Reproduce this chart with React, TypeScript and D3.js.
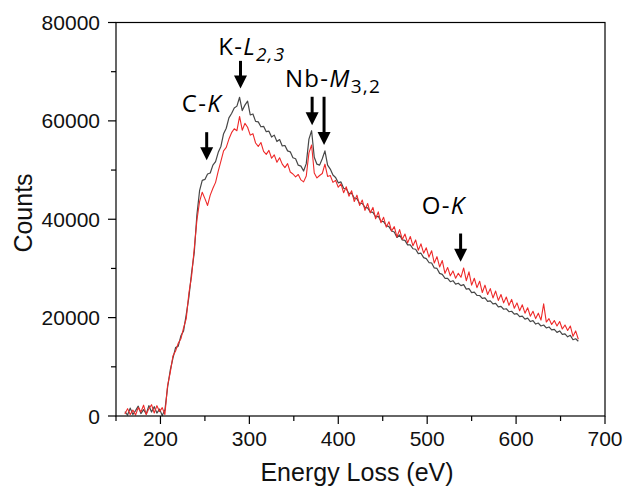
import React from "react";
import * as d3 from "d3";

const energyStart = 160;
const energyStep = 3;

const grayCounts = [
  900, 200, 1600, 300, 1100, 2000, 500, 1300, 400, 2100, 800, 1900, 600, 1400, 100, 1200,
  5800, 9300, 11700, 13900, 14200, 16300, 17300, 20600, 24200, 29100, 33200, 40900, 45800, 47900,
  48100, 49200, 49400, 51000, 51700, 53600, 54800, 57400, 58500, 60600, 61500, 62600, 63000, 64800,
  62100, 63200, 64000, 61200, 61400, 59900, 59800, 58800, 58900, 57800, 57900, 56700, 57100, 55800,
  56200, 54900, 55000, 53900, 53700, 52500, 52300, 51000, 50800, 49800, 51300, 56300, 58000, 52600,
  51200, 51000, 52300, 53900, 51000, 50200, 49000, 48500, 47400, 47600, 46300, 46200, 45200, 45300,
  44300, 44200, 43200, 43200, 42400, 42300, 41500, 41400, 40500, 40600, 39600, 39500, 38700, 38500,
  37600, 37400, 36300, 36800, 35800, 35700, 34800, 34800, 34000, 33900, 33000, 33100, 32200, 32000,
  31200, 31100, 30100, 30000, 29000, 28800, 28000, 28000, 27300, 27500, 26800, 27000, 26500, 26700,
  25800, 25900, 25100, 25200, 24500, 24500, 23900, 24000, 23300, 23400, 22800, 22900, 22200, 22300,
  21700, 21800, 21200, 21300, 20700, 20800, 20200, 20300, 19700, 19900, 19200, 19400, 18700, 18900,
  18300, 18500, 17900, 18100, 17500, 17600, 17000, 17300, 16600, 16700, 16100, 16400, 15500, 15700,
  15200,
];

const redCounts = [
  400, 1500, 300, 1200, 200, 1700, 800, 2200, 300, 1500, 2300, 600, 2100, 900, 1700, 300,
  6200, 8800, 12200, 13200, 14800, 15700, 17900, 19800, 25000, 28400, 34000, 39800, 43600, 45500,
  44200, 42800, 44900, 46300, 47500, 49800, 51800, 53900, 54600, 56300, 57600, 58400, 58000, 60900,
  58100, 59500, 58700, 57100, 57400, 55500, 54800, 55600, 53800, 53200, 54000, 52400, 53100, 51600,
  52500, 51200, 50500, 51300, 49600, 49200, 48600, 49100, 48000, 47600, 48800, 53500, 55100, 49400,
  48400, 48900, 49300, 51200, 48700, 48900, 47500, 47900, 46500, 47200, 45400, 46600, 44700, 45800,
  43600, 44900, 42800, 43900, 41800, 43200, 41300, 42400, 40100, 41500, 39300, 40400, 38400, 39500,
  37600, 38500, 36400, 37900, 35900, 37000, 35200, 36500, 34600, 35800, 33700, 35000, 33100, 34200,
  32300, 33600, 31100, 32400, 30300, 31600, 29000, 30200, 28500, 29500, 28000, 29000, 28200, 30100,
  27500, 29300, 26600, 28000, 26100, 27400, 25100, 26600, 24700, 25900, 24000, 25400, 23500, 24700,
  23000, 24200, 22500, 23700, 21900, 23000, 21400, 22600, 20900, 22000, 20300, 21300, 19800, 20900,
  19500, 22800, 19100, 19800, 18600, 19400, 18300, 19200, 17700, 18500, 17400, 18300, 16200, 17300,
  15600,
];

const xTicks = [200, 300, 400, 500, 600, 700];
const xMinorTicks = [150, 250, 350, 450, 550, 650];
const yTicks = [0, 20000, 40000, 60000, 80000];
const yMinorTicks = [10000, 30000, 50000, 70000];

// arrows: energy, tail counts, tip counts
const arrowEnergy = [252, 290, 370.6, 384, 537.6];
const arrowTail = [57700, 72200, 64900, 64900, 37100];
const arrowTip = [52000, 66600, 59100, 55100, 31350];

const W = 625;
const H = 487;
const M = { left: 116, right: 20, top: 22.5, bottom: 71 };

export default function App() {
  const x = d3.scaleLinear().domain([150, 700]).range([M.left, W - M.right]);
  const y = d3.scaleLinear().domain([0, 80000]).range([H - M.bottom, M.top]);
  const energies = grayCounts.map((_, i) => energyStart + i * energyStep);
  const line = d3
    .line<number>()
    .x((_, i) => x(energies[i]))
    .y((d) => y(d));

  const x0 = x.range()[0];
  const x1 = x.range()[1];
  const y0 = y.range()[0];
  const y1 = y.range()[1];
  const axisFont = "'Liberation Sans', Arial, sans-serif";
  const annFont = "'Open Sans', 'Noto Sans', sans-serif";

  return (
    <svg width={W} height={H} style={{ position: "absolute", left: 0, top: 0, background: "#fff" }}>
      <g fill="none" strokeLinejoin="round">
        <path d={line(grayCounts) || ""} stroke="#474747" strokeWidth={1.2} />
        <path d={line(redCounts) || ""} stroke="#ee2a2a" strokeWidth={1.1} />
      </g>
      {/* frame */}
      <rect x={x0} y={y1} width={x1 - x0} height={y0 - y1} fill="none" stroke="#000" strokeWidth={1.2} />
      {/* x ticks */}
      {xTicks.map((t) => (
        <g key={"xt" + t}>
          <line x1={x(t)} x2={x(t)} y1={y0} y2={y0 + 8} stroke="#000" strokeWidth={1.2} />
          <text x={x(t)} y={y0 + 30} textAnchor="middle" fontSize={21} fontFamily={axisFont} fill="#111">
            {t}
          </text>
        </g>
      ))}
      {xMinorTicks.map((t) => (
        <line key={"xm" + t} x1={x(t)} x2={x(t)} y1={y0} y2={y0 + 5} stroke="#000" strokeWidth={1.2} />
      ))}
      {yTicks.map((t) => (
        <g key={"yt" + t}>
          <line x1={x0 - 8} x2={x0} y1={y(t)} y2={y(t)} stroke="#000" strokeWidth={1.2} />
          <text x={x0 - 16} y={y(t) + 7.5} textAnchor="end" fontSize={21} fontFamily={axisFont} fill="#111">
            {t}
          </text>
        </g>
      ))}
      {yMinorTicks.map((t) => (
        <line key={"ym" + t} x1={x0 - 5} x2={x0} y1={y(t)} y2={y(t)} stroke="#000" strokeWidth={1.2} />
      ))}
      <text x={357} y={481} textAnchor="middle" fontSize={25} fontFamily={axisFont} fill="#111">
        Energy Loss (eV)
      </text>
      <text transform="translate(32,213) rotate(-90)" textAnchor="middle" fontSize={25} fontFamily={axisFont} fill="#111">
        Counts
      </text>
      {/* arrows */}
      {arrowEnergy.map((e, i) => {
        const ax = x(e);
        const yt = y(arrowTail[i]);
        const yp = y(arrowTip[i]);
        return (
          <g key={"ar" + i}>
            <line x1={ax} x2={ax} y1={yt} y2={yp - 10} stroke="#000" strokeWidth={3} />
            <path d={`M${ax - 6.5},${yp - 13} L${ax + 6.5},${yp - 13} L${ax},${yp} Z`} fill="#000" />
          </g>
        );
      })}
      {/* labels */}
      <g fontFamily={annFont} fontSize={24} fill="#000" letterSpacing={1.3}>
        <text x={x(224)} y={y(61800)}>
          C-<tspan fontStyle="italic">K</tspan>
        </text>
        <text x={x(265)} y={y(73400)}>
          K-<tspan fontStyle="italic">L</tspan>
          <tspan fontStyle="italic" fontSize={19} dy={6}>2,3</tspan>
        </text>
        <text x={x(340)} y={y(66900)}>
          Nb-<tspan fontStyle="italic">M</tspan>
          <tspan fontSize={19} dy={6}>3,2</tspan>
        </text>
        <text x={x(494)} y={y(41050)}>
          O-<tspan fontStyle="italic">K</tspan>
        </text>
      </g>
    </svg>
  );
}
